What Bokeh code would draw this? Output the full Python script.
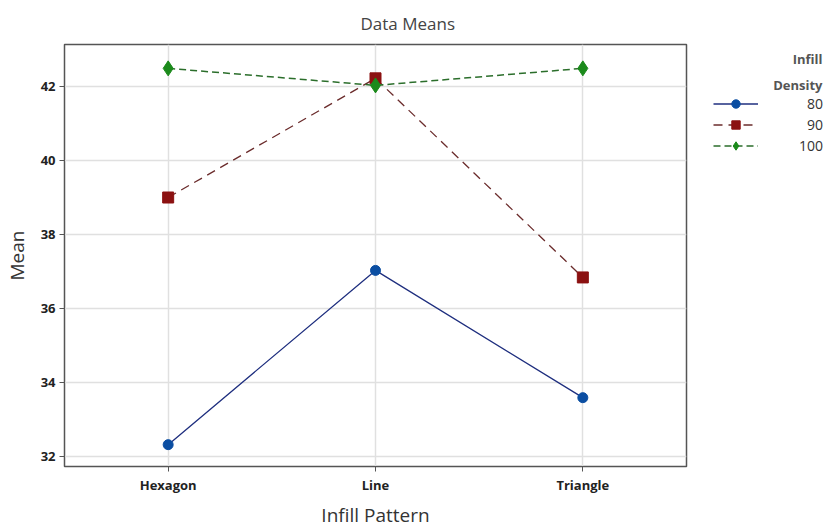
from bokeh.plotting import figure
from bokeh.layouts import row
from bokeh.models import Legend, LegendItem, FactorRange, Range1d, FixedTicker, Label
from bokeh.embed import file_html
from bokeh.resources import INLINE

patterns = ["Hexagon", "Line", "Triangle"]
density_labels = ["\u200780", "\u200790", "100"]
legend_title_lines = ["Infill", "Density"]
means_80 = [32.32, 37.03, 33.59]
means_90 = [39.0, 42.22, 36.84]
means_100 = [42.49, 42.03, 42.49]
y_ticks = [32, 34, 36, 38, 40, 42]

FONT = "Open Sans"
styles = [
    dict(line_color="#1f2f7f", line_width=1.3, line_dash="solid", marker="circle", size=10, color="#0b4ea2"),
    dict(line_color="#6b2c2c", line_width=1.3, line_dash="9 6", marker="square", size=11, color="#8b1111"),
    dict(line_color="#2b6e2b", line_width=1.5, line_dash="7 4", marker="diamond", size=15, color="#1b8a1b"),
]
series = [means_80, means_90, means_100]

p = figure(x_range=FactorRange(*patterns), y_range=Range1d(31.73, 43.135),
           frame_width=622, frame_height=422, output_backend="svg",
           toolbar_location=None, title="Data Means",
           min_border_left=56, min_border_top=44, min_border_bottom=50, min_border_right=8)

p.title.align = "left"
p.title.offset = 296
p.title.text_font = FONT
p.title.text_font_size = "17px"
p.title.text_font_style = "normal"
p.title.text_color = "#444444"
p.title.standoff = 19

p.outline_line_color = "#555555"
p.outline_line_width = 1.5
p.background_fill_color = "white"
p.border_fill_color = "white"

for ax in (p.xaxis[0], p.yaxis[0]):
    ax.axis_line_color = "#555555"
    ax.major_tick_line_color = "#555555"
    ax.major_tick_out = 5
    ax.major_tick_in = 0
    ax.minor_tick_line_color = None
    ax.major_label_text_font = FONT
    ax.major_label_text_font_size = "13px"
    ax.major_label_text_font_style = "bold"
    ax.major_label_text_color = "#222222"
    ax.axis_label_text_font = FONT
    ax.axis_label_text_font_size = "19px"
    ax.axis_label_text_font_style = "normal"
    ax.axis_label_text_color = "#333333"

p.xaxis.axis_label = "Infill Pattern"
p.yaxis.axis_label = "Mean"
p.yaxis.ticker = FixedTicker(ticks=y_ticks)
p.xaxis.major_label_standoff = 4
p.xaxis.axis_label_standoff = 5
p.yaxis.major_label_standoff = 4
p.yaxis.axis_label_standoff = 8

p.xgrid.grid_line_color = "#e0e0e0"
p.ygrid.grid_line_color = "#e0e0e0"
p.xgrid.grid_line_width = 1.5
p.ygrid.grid_line_width = 1.5

for vals, st in zip(series, styles):
    p.line(patterns, vals, line_color=st["line_color"], line_width=st["line_width"], line_dash=st["line_dash"])
    p.scatter(patterns, vals, marker=st["marker"], size=st["size"], fill_color=st["color"], line_color=st["color"])

# Legend panel: a second figure whose view range excludes the data, so only the legend shows
q = figure(width=130, height=516, x_range=FactorRange(*patterns), y_range=Range1d(0, 1),
           output_backend="svg", toolbar_location=None,
           x_axis_type=None, y_axis_type=None,
           min_border_left=0, min_border_right=0, min_border_top=0, min_border_bottom=0)
q.outline_line_color = None
q.xgrid.visible = False
q.ygrid.visible = False
q.background_fill_color = "white"
q.border_fill_color = "white"

items = []
for lab, vals, st in zip(density_labels, series, styles):
    lr = q.line(patterns, vals, line_color=st["line_color"], line_width=st["line_width"], line_dash=st["line_dash"])
    mr = q.scatter(patterns, vals, marker=st["marker"], size=st["size"], fill_color=st["color"], line_color=st["color"])
    items.append(LegendItem(label=lab, renderers=[lr, mr]))

legend = Legend(items=items, location=(19, 296))
legend.label_text_font = FONT
legend.label_text_font_size = "14px"
legend.label_text_color = "#333333"
legend.glyph_width = 45
legend.label_standoff = 41
legend.spacing = 0
legend.label_height = 21
legend.glyph_height = 21
legend.border_line_color = None
legend.background_fill_alpha = 0
legend.margin = 0
legend.padding = 0
q.add_layout(legend, "center")

for txt, ypos in zip(legend_title_lines, [394, 368]):
    q.add_layout(Label(x=128, y=ypos, x_units="screen", y_units="screen", text=txt,
                       text_align="right", text_baseline="middle", text_font=FONT,
                       text_font_size="13px", text_font_style="bold", text_color="#555555"))

layout = row(p, q, spacing=0)
open("out.html", "w").write(file_html(layout, INLINE))
